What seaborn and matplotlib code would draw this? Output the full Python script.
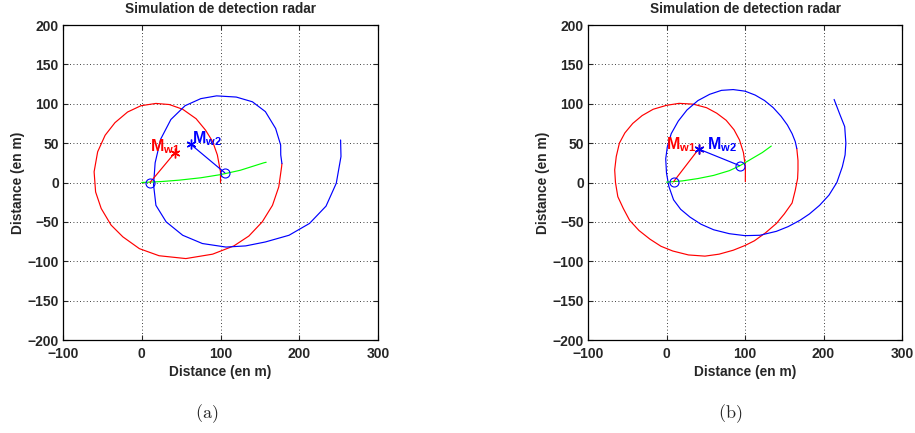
import numpy as np
import pandas as pd
import seaborn as sns
import matplotlib.pyplot as plt

# ---- data ----
# panel (a)
red_a_x = [100, 100, 96, 90, 81, 69, 52, 35, 18, -1, -18, -34, -46.5, -56, -60.5, -58.6,
           -51.5, -39, -24, -3, 22, 56, 90, 117, 136, 153, 166, 174, 177.6, 178]
red_a_y = [0, 13.5, 35, 52, 66.5, 81, 93, 99, 100.4, 97.5, 89.5, 76, 60, 39, 13.6, -12,
           -33, -54, -69, -84, -93, -96.6, -91, -80.5, -68, -50, -29, -5.5, 20, 24]
blue_a_x = [178, 176.5, 176.4, 170, 157, 140.5, 120, 95, 75, 55, 37, 24, 17, 15, 18,
            31, 52, 77, 107, 132, 157, 187, 213, 234, 247, 253, 252.5]
blue_a_y = [24, 35, 47.5, 68.6, 90, 102.5, 108.5, 110, 106.5, 97.5, 80, 55, 25, -3, -29,
            -50, -67, -77.5, -82, -80.5, -75.5, -67, -52, -30, -1, 33, 54]
green_a_x = [0, 25, 47.7, 75, 100, 125, 155, 158]
green_a_y = [0, 1.2, 3, 6, 10, 15.5, 25, 25.7]
radar_a = [(10.5, 0), (105.5, 12.3)]      # blue circles
target_a = [(42.2, 38), (62.4, 48.3)]     # M_w1 (red), M_w2 (blue)
label_a = [(11, 39.8), (63.3, 49.6)]

# panel (b)
red_b_x = [100.4, 100.5, 98, 93, 86, 76, 64, 51, 34, 16, 0, -17, -31, -43, -53, -60, -64,
           -66, -65, -62, -55, -47, -35, -21, -7, 8, 28, 49, 67, 85, 100, 112, 126, 140,
           150, 160, 164, 167, 167.5, 167.5, 166]
red_b_y = [1, 20, 38, 54, 67, 79, 88, 95, 99.5, 100.5, 98, 93, 85, 75, 63, 50, 33, 16, 0,
           -18, -33, -48, -61, -72, -81, -87, -92, -93.5, -91, -86, -80, -74, -64, -52,
           -40, -26, -10, 5, 16, 28, 43]
blue_b_x = [166, 164, 160, 154, 146, 136, 125, 113, 100, 85, 70, 55, 40, 26, 15, 6, 1, -1,
            0, 3, 9, 18, 30, 44, 60, 80, 100, 119, 140, 155, 170, 182, 195, 207, 217,
            224, 227.5, 228.5, 227, 221, 213.5]
blue_b_y = [43, 52, 62, 73, 84, 95, 104, 111, 116, 118, 117, 112, 104, 92, 78, 62, 45, 30,
            12, -5, -22, -34, -44, -53, -60, -65, -67.5, -67, -62, -56, -48, -40, -29, -16,
            0, 20, 35, 50, 71, 86, 105.5]
green_b_x = [0, 20, 40, 60, 80, 93, 110, 122, 133.5]
green_b_y = [0.5, 2, 5, 9, 15, 21, 31, 38, 46.3]
radar_b = [(9, 1), (93, 21.5)]
target_b = [(41, 42.5), (41, 42.5)]
label_b = [(-1, 42.2), (52, 42.2)]

title = "Simulation de detection radar"
axis_label = "Distance (en m)"
captions = ["(a)", "(b)"]

sns.set_style("ticks")
plt.rcParams['font.family'] = ['Liberation Sans', 'DejaVu Sans']
plt.rcParams['font.weight'] = 'bold'
plt.rcParams['mathtext.fontset'] = 'custom'
plt.rcParams['mathtext.rm'] = 'Liberation Sans:bold'
plt.rcParams['mathtext.bf'] = 'Liberation Sans:bold'
plt.rcParams['mathtext.it'] = 'Liberation Sans:bold'

fig = plt.figure(figsize=(9.15, 4.33), dpi=100)
ax_a = fig.add_axes([63 / 915, 1 - 340 / 433, 315 / 915, 315 / 433])
ax_b = fig.add_axes([588 / 915, 1 - 340 / 433, 314 / 915, 315 / 433])


def draw_panel(ax, rx, ry, bx, by, gx, gy, radar, target, labels):
    lw = 0.85
    for xs, ys, col in [(rx, ry, '#ff0000'), (bx, by, '#0000ff'), (gx, gy, '#00ff00')]:
        df = pd.DataFrame({'x': xs, 'y': ys})
        sns.lineplot(data=df, x='x', y='y', sort=False, estimator=None,
                     color=col, linewidth=lw, ax=ax)
    # radar -> target lines
    for (px, py), (tx, ty), col in zip(radar, target, ['#ff0000', '#0000ff']):
        df = pd.DataFrame({'x': [px, tx], 'y': [py, ty]})
        sns.lineplot(data=df, x='x', y='y', sort=False, estimator=None,
                     color=col, linewidth=lw, ax=ax)
    for (tx, ty), col in zip(target, ['#ff0000', '#0000ff']):
        ax.plot(tx, ty, marker=(6, 2, 0), color=col, markersize=7, mew=1.0)
    for px, py in radar:
        ax.plot(px, py, 'o', mfc='none', mec='#0000ff', markersize=6.5, mew=0.8)
    for (lx, ly), col, sub in zip(labels, ['#ff0000', '#0000ff'], ['w1', 'w2']):
        ax.text(lx, ly, r'$\mathbf{M}_{\mathbf{%s}}$' % sub, color=col, fontsize=11.5,
                ha='left', va='baseline')

    ax.set_xlim(-100, 300)
    ax.set_ylim(-200, 200)
    ax.set_xticks(np.arange(-100, 301, 100))
    ax.set_yticks(np.arange(-200, 201, 50))
    ax.grid(True, linestyle=(0, (1, 3)), color='black', linewidth=0.6)
    ax.tick_params(axis='both', direction='in', top=True, right=True, length=3.5,
                   width=0.8, labelsize=10)
    ax.tick_params(axis='x', pad=5)
    ax.tick_params(axis='y', pad=3)
    for lab in ax.get_xticklabels() + ax.get_yticklabels():
        lab.set_fontweight('bold')
    for s in ax.spines.values():
        s.set_visible(True)
        s.set_linewidth(0.9)
        s.set_color('black')
    ax.set_title(title, fontsize=9.8, fontweight='bold', pad=9)
    ax.set_xlabel(axis_label, fontsize=9.9, fontweight='bold', labelpad=3)
    ax.set_ylabel(axis_label, fontsize=9.9, fontweight='bold', labelpad=2)


draw_panel(ax_a, red_a_x, red_a_y, blue_a_x, blue_a_y, green_a_x, green_a_y,
           radar_a, target_a, label_a)
draw_panel(ax_b, red_b_x, red_b_y, blue_b_x, blue_b_y, green_b_x, green_b_y,
           radar_b, target_b, label_b)

for cx, cap in zip([207 / 915, 730 / 915], captions):
    fig.text(cx, 1 - 414 / 433, r'$\mathrm{%s}$' % cap, fontsize=13, ha='center',
             va='center', math_fontfamily='cm', fontweight='normal')

fig.savefig('out.png', dpi=100)
